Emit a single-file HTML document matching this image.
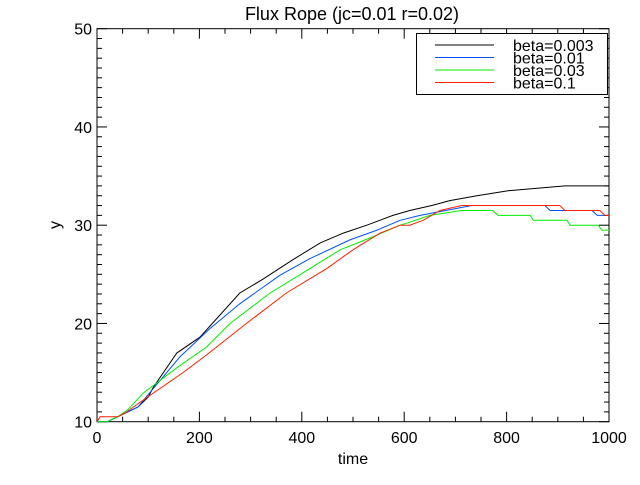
<!DOCTYPE html>
<html><head><meta charset="utf-8"><style>
body{margin:0;background:#fff}
svg text{font-family:"Liberation Sans",sans-serif;fill:#000}
</style></head><body>
<svg id="chart" width="640" height="480" xmlns="http://www.w3.org/2000/svg">
<rect width="640" height="480" fill="#fff"/>
<text x="352" y="20" font-size="18" text-anchor="middle">Flux Rope (jc=0.01 r=0.02)</text>
<g id="axes"></g>
<g id="series"></g>
<text x="353" y="464" font-size="16" text-anchor="middle">time</text>
<text x="60" y="225" font-size="16" text-anchor="middle" transform="rotate(-90 60 225)">y</text>
<g id="legend"></g>
</svg>
<script>
const xTicks=[0,200,400,600,800,1000];
const yTicks=[10,20,30,40,50];
const seriesNames=["beta=0.003","beta=0.01","beta=0.03","beta=0.1"];
const seriesColors=["#000000","#0050ff","#00ee00","#ff2000"];
const tBlack=[0,20,40,60,80,100,110,156,201,279,324,383,436,481,527,578,611,654,689,742,803,914,1000];
const yBlack=[10,10,10.5,11,11.5,12.5,13.5,17,18.6,23.1,24.5,26.5,28.2,29.2,30,31,31.5,32,32.5,33,33.5,34,34];
const tBlue=[0,20,40,60,80,104,162,221,279,357,416,494,547,592,631,732,875,885,967,977,1000];
const yBlue=[10,10,10.5,11,11.5,13,16.6,19.5,22,24.9,26.6,28.5,29.5,30.5,31,32,32,31.5,31.5,31,31];
const tGreen=[0,20,40,60,90,156,214,260,338,410,475,533,592,605,650,712,773,783,846,852,918,924,979,986,1000];
const yGreen=[10,10,10.5,11.2,12.9,15.5,17.6,20,23.1,25.4,27.5,28.7,30,30.2,31,31.5,31.5,31,31,30.5,30.5,30,30,29.5,29.5];
const tRed=[0,6,41,58,90,168,214,292,370,449,500,553,592,611,637,670,712,904,914,982,992,1000];
const yRed=[10,10.5,10.5,11,12.2,15,16.8,20,23.1,25.6,27.5,29.2,30,30,30.5,31.5,32,32,31.5,31.5,31,31];

const X0=97,X1=609,Y0=421.7,Y1=28.7;
const sx=t=>X0+(t-0)/(1000-0)*(X1-X0);
const sy=v=>Y0-(v-10)/(50-10)*(Y0-Y1);
const NS="http://www.w3.org/2000/svg";
function mk(tag,attrs,parent){const e=document.createElementNS(NS,tag);for(const k in attrs)e.setAttribute(k,attrs[k]);parent.appendChild(e);return e;}
const axes=document.getElementById('axes');
const frame=mk('rect',{x:X0,y:Y1,width:X1-X0,height:Y0-Y1,fill:'none',stroke:'#000','stroke-width':1},axes);


// x ticks
for(let t=0;t<=1000;t+=50){
  const major=t%200===0;const L=major?10:5;const x=sx(t);
  const a=mk('line',{x1:x,x2:x,y1:Y0,y2:Y0-L,stroke:'#000'},axes);
  
  
  const b=mk('line',{x1:x,x2:x,y1:Y1,y2:Y1+L,stroke:'#000'},axes);
  
  
}
xTicks.forEach(t=>{const e=mk('text',{x:sx(t),y:443,'font-size':16,'text-anchor':'middle'},axes);e.textContent=t;
  
  });
for(let v=10;v<=50;v+=1){
  const major=v%10===0;const L=major?10:5;const y=sy(v);
  const a=mk('line',{x1:X0,x2:X0+L,y1:y,y2:y,stroke:'#000'},axes);
  
  
  const b=mk('line',{x1:X1,x2:X1-L,y1:y,y2:y,stroke:'#000'},axes);
  
  
}
yTicks.forEach(v=>{const e=mk('text',{x:92,y:sy(v)+6,'font-size':16,'text-anchor':'end'},axes);e.textContent=v;
  
  });
const ser=document.getElementById('series');
const data=[[tBlack,yBlack],[tBlue,yBlue],[tGreen,yGreen],[tRed,yRed]];
data.forEach((d,i)=>{
  const pts=d[0].map((t,j)=>sx(t).toFixed(1)+','+sy(d[1][j]).toFixed(1)).join(' ');
  const p=mk('polyline',{points:pts,fill:'none',stroke:seriesColors[i],'stroke-width':1},ser);
  
  
});
const lg=document.getElementById('legend');
const box=mk('rect',{x:416.5,y:33.5,width:191,height:61,fill:'#fff',stroke:'#000'},lg);


seriesNames.forEach((n,i)=>{
  const y=45+i*12.5;
  const l=mk('line',{x1:435,x2:494,y1:y,y2:y,stroke:seriesColors[i]},lg);
  
  
  const t=mk('text',{x:513,y:y+6,'font-size':16},lg);t.textContent=n;
  
  
});
</script>
</body></html>
